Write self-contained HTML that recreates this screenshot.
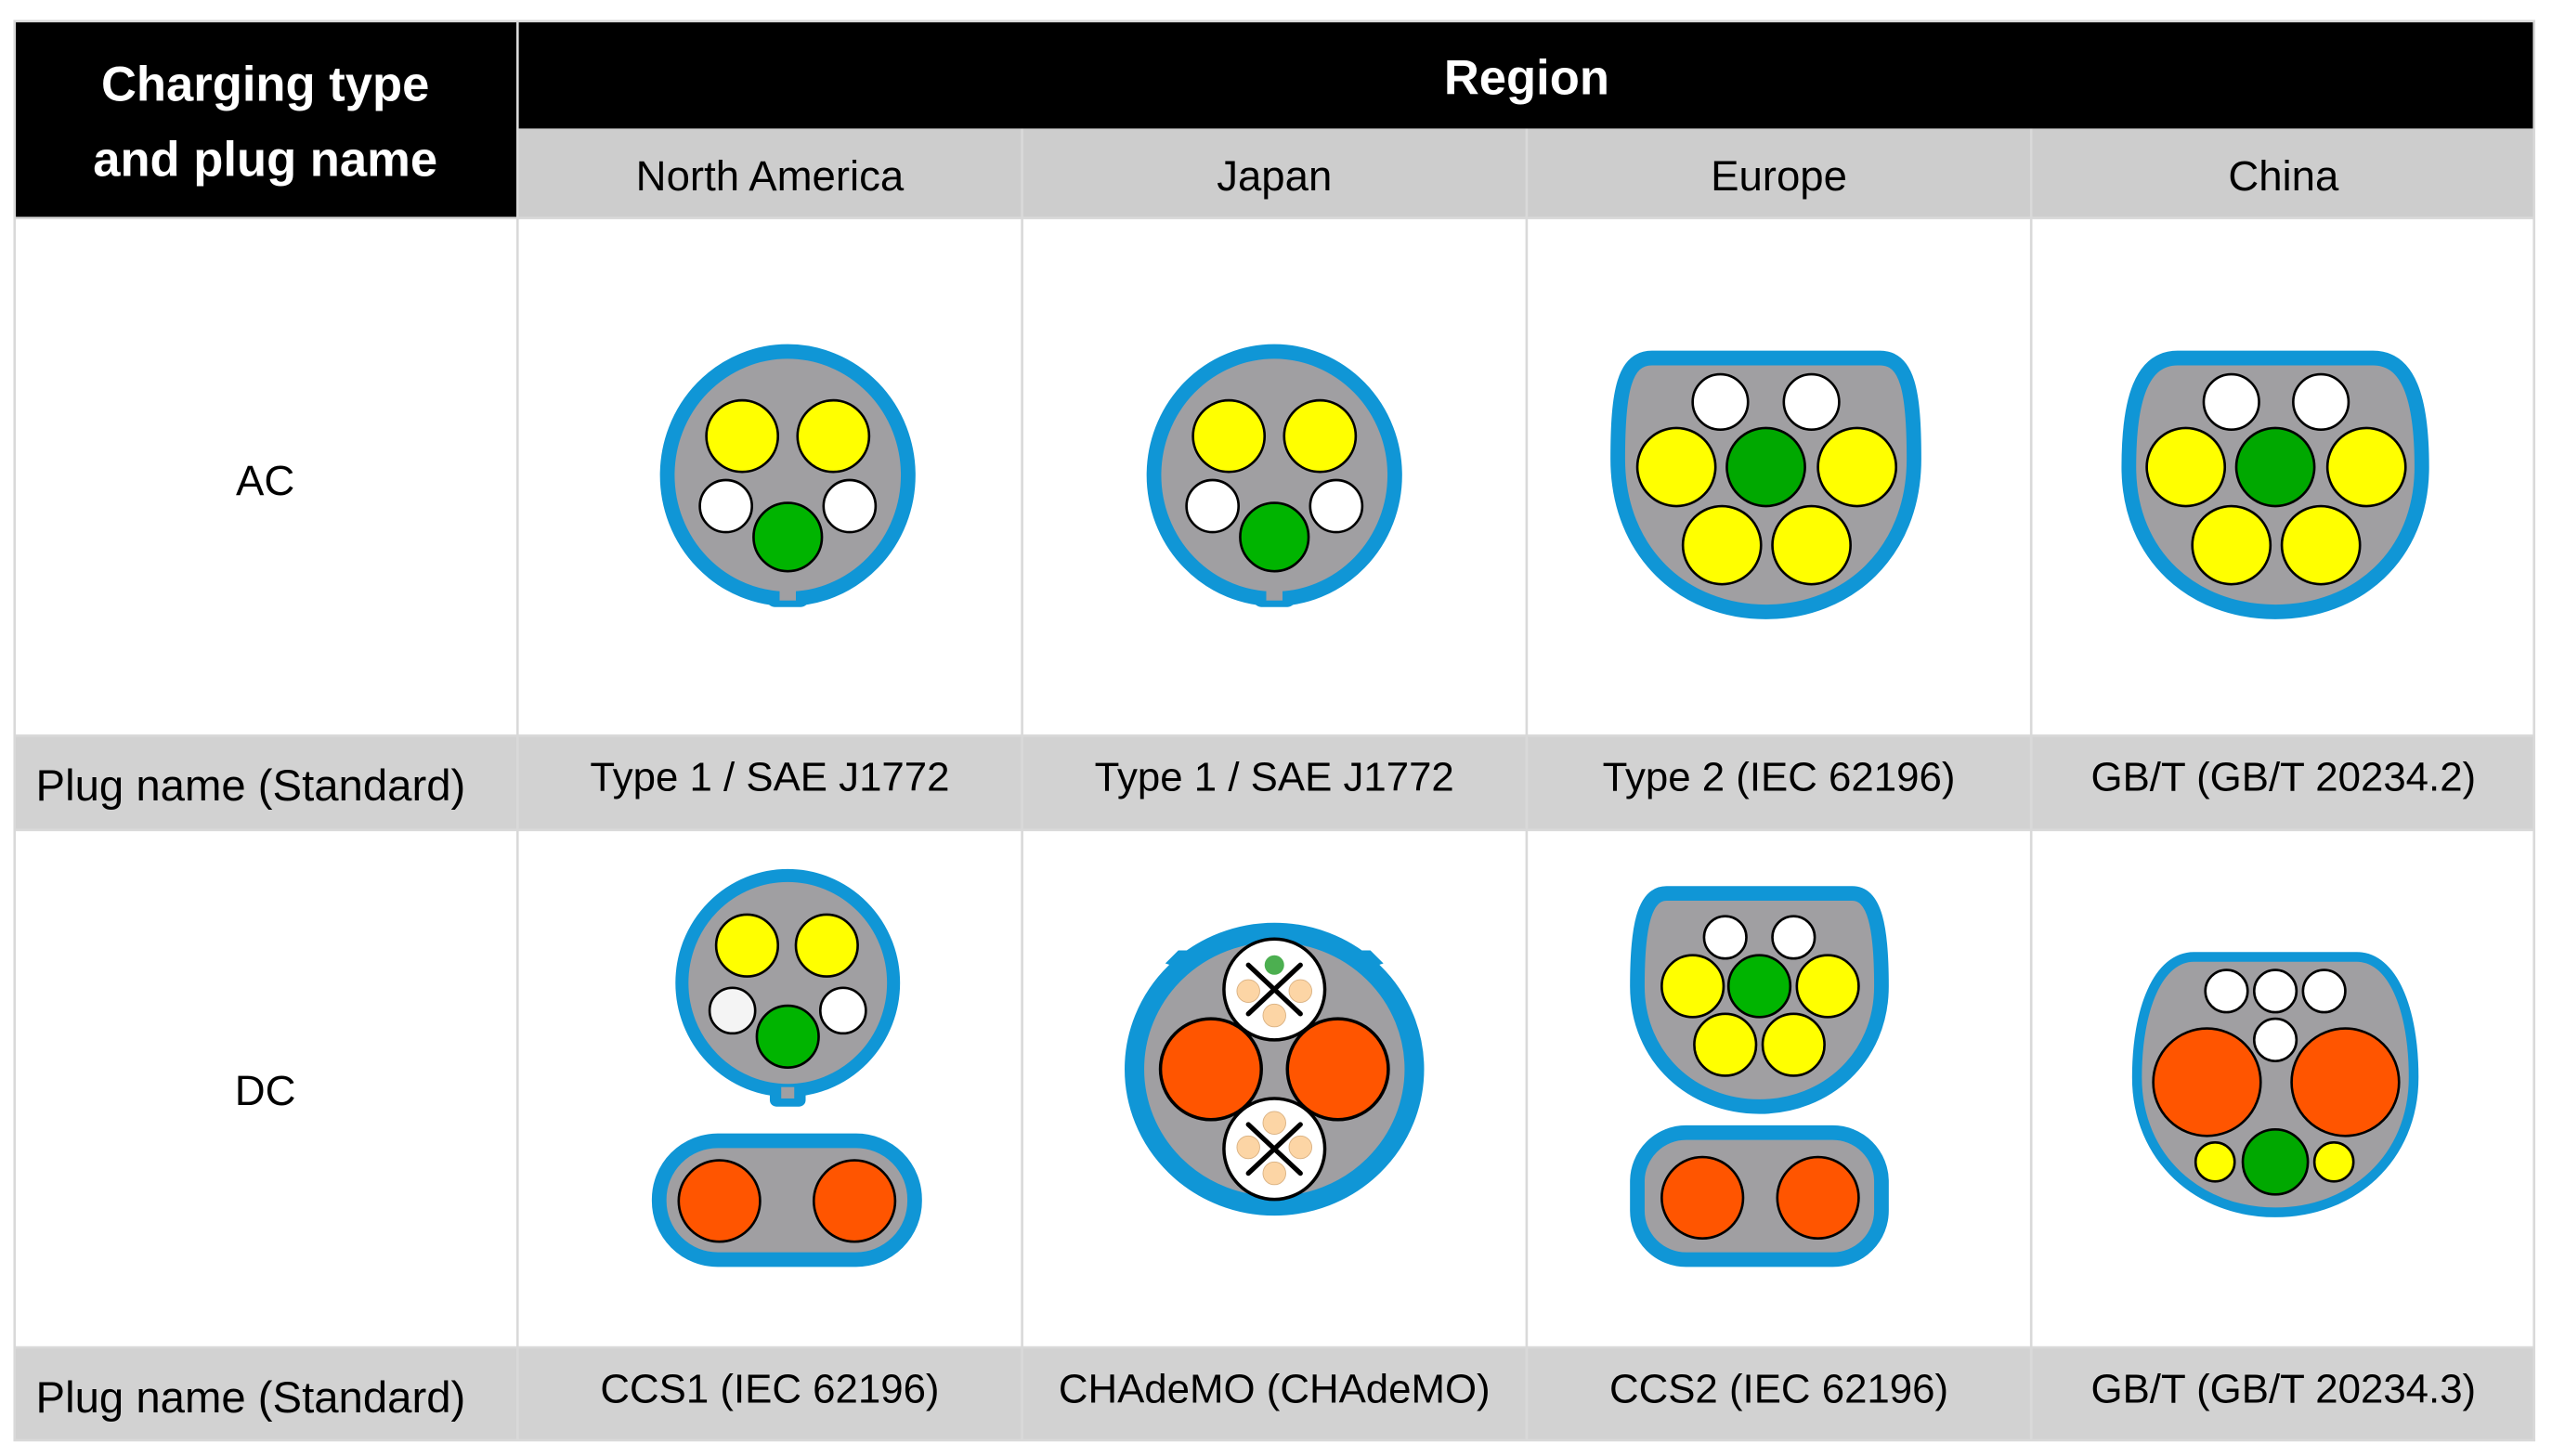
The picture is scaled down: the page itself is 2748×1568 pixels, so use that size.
<!DOCTYPE html>
<html><head><meta charset="utf-8"><style>
html,body{margin:0;padding:0;background:#fff}
svg{display:block}
text{font-family:"Liberation Sans","DejaVu Sans",sans-serif}
</style></head><body>
<svg width="2748" height="1568" viewBox="0 0 1568 894.7" preserveAspectRatio="none" xmlns="http://www.w3.org/2000/svg">
<rect x="0" y="0" width="1568" height="895" fill="#fff"/>
<rect x="9" y="13" width="309" height="121" fill="#000"/>
<rect x="318" y="13" width="1239" height="66" fill="#000"/>
<rect x="318" y="79" width="1239" height="55" fill="#cdcdcd"/>
<rect x="9" y="452" width="1548" height="58" fill="#d2d2d2"/>
<rect x="9" y="828" width="1548" height="57" fill="#d2d2d2"/>
<g stroke="#d9d9d9" stroke-width="1.5" fill="none">
<rect x="9" y="13" width="1548" height="872"/>
<line x1="318" y1="13" x2="318" y2="885"/>
<line x1="628" y1="79" x2="628" y2="885"/>
<line x1="938" y1="79" x2="938" y2="885"/>
<line x1="1248" y1="79" x2="1248" y2="885"/>
<line x1="9" y1="134" x2="1557" y2="134"/>
<line x1="9" y1="452" x2="1557" y2="452"/>
<line x1="9" y1="510" x2="1557" y2="510"/>
<line x1="9" y1="828" x2="1557" y2="828"/>
</g>
<g fill="#fff" font-weight="bold" font-size="30" text-anchor="middle">
<text x="163" y="62">Charging type</text>
<text x="163" y="108">and plug name</text>
<text x="938" y="58">Region</text>
</g>
<g fill="#000" font-size="26" text-anchor="middle">
<text x="473" y="117">North America</text>
<text x="783" y="117">Japan</text>
<text x="1093" y="117">Europe</text>
<text x="1403" y="117">China</text>
<text x="163" y="304">AC</text>
<text x="163" y="679">DC</text>
</g>
<g fill="#000" font-size="25" text-anchor="middle">
<text x="473" y="486">Type 1 / SAE J1772</text>
<text x="783" y="486">Type 1 / SAE J1772</text>
<text x="1093" y="486">Type 2 (IEC 62196)</text>
<text x="1403" y="486">GB/T (GB/T 20234.2)</text>
<text x="473" y="862">CCS1 (IEC 62196)</text>
<text x="783" y="862">CHAdeMO (CHAdeMO)</text>
<text x="1093" y="862">CCS2 (IEC 62196)</text>
<text x="1403" y="862">GB/T (GB/T 20234.3)</text>
</g>
<g fill="#000" font-size="27">
<text x="22" y="492">Plug name (Standard)</text>
<text x="22" y="868">Plug name (Standard)</text>
</g>

<defs>
<g id="t1">
<rect x="-13" y="62" width="26" height="19" rx="5" fill="#1096d6"/>
<ellipse cx="0" cy="0" rx="74" ry="76" fill="#a09fa2" stroke="#1096d6" stroke-width="9"/>
<rect x="-5" y="70" width="10" height="7" fill="#a09fa2"/>
<g stroke="#000" stroke-width="1.5">
<circle cx="-28" cy="-24" r="22" fill="#ffff00"/>
<circle cx="28" cy="-24" r="22" fill="#ffff00"/>
<circle cx="-38" cy="19" r="16" fill="#fff"/>
<circle cx="38" cy="19" r="16" fill="#fff"/>
<circle cx="0" cy="38" r="21" fill="#00b400"/>
</g>
</g>
</defs>
<use href="#t1" x="484" y="292"/>
<use href="#t1" x="783" y="292"/>

<!-- Europe AC -->
<path d="M1015,220 H1155 C1172,220 1176,240 1176,282 C1176,340 1135,376 1085,376 C1035,376 994,340 994,282 C994,240 998,220 1015,220 Z" fill="#a09fa2" stroke="#1096d6" stroke-width="9" stroke-linejoin="round"/>
<g stroke="#000" stroke-width="1.5">
<circle cx="1057" cy="247" r="17" fill="#fff"/><circle cx="1113" cy="247" r="17" fill="#fff"/>
<circle cx="1030" cy="287" r="24" fill="#ffff00"/><circle cx="1085" cy="287" r="24" fill="#00a800"/><circle cx="1141" cy="287" r="24" fill="#ffff00"/>
<circle cx="1058" cy="335" r="24" fill="#ffff00"/><circle cx="1113" cy="335" r="24" fill="#ffff00"/>
</g>
<!-- China AC -->
<path d="M1338,220 H1458 C1480,220 1488,245 1488,287 C1488,342 1448,376 1398,376 C1348,376 1308,342 1308,287 C1308,245 1316,220 1338,220 Z" fill="#a09fa2" stroke="#1096d6" stroke-width="9" stroke-linejoin="round"/>
<g stroke="#000" stroke-width="1.5">
<circle cx="1371" cy="247" r="17" fill="#fff"/><circle cx="1426" cy="247" r="17" fill="#fff"/>
<circle cx="1343" cy="287" r="24" fill="#ffff00"/><circle cx="1398" cy="287" r="24" fill="#00a800"/><circle cx="1454" cy="287" r="24" fill="#ffff00"/>
<circle cx="1371" cy="335" r="24" fill="#ffff00"/><circle cx="1426" cy="335" r="24" fill="#ffff00"/>
</g>

<!-- NA DC -->
<rect x="473" y="662" width="22" height="18" rx="4" fill="#1096d6"/>
<ellipse cx="484" cy="604" rx="65" ry="66" fill="#a09fa2" stroke="#1096d6" stroke-width="8"/>
<rect x="480" y="668" width="8" height="7" fill="#a09fa2"/>
<g stroke="#000" stroke-width="1.5">
<circle cx="459" cy="581" r="19" fill="#ffff00"/><circle cx="508" cy="581" r="19" fill="#ffff00"/>
<circle cx="450" cy="621" r="14" fill="#f4f4f4"/><circle cx="518" cy="621" r="14" fill="#fff"/>
<circle cx="484" cy="637" r="19" fill="#00b400"/>
</g>
<rect x="405" y="701" width="157" height="73" rx="36" fill="#a09fa2" stroke="#1096d6" stroke-width="9"/>
<g stroke="#000" stroke-width="1.5" fill="#ff5500">
<circle cx="442" cy="738" r="25"/><circle cx="525" cy="738" r="25"/>
</g>

<!-- Japan DC -->
<path d="M716,592 L724,584 L740,584 L740,600 Z M850,592 L842,584 L826,584 L826,600 Z" fill="#1096d6"/>
<ellipse cx="783" cy="657" rx="86" ry="84" fill="#a09fa2" stroke="#1096d6" stroke-width="12"/>
<g stroke="#000" stroke-width="2">
<circle cx="744" cy="657" r="31" fill="#ff5500"/><circle cx="822" cy="657" r="31" fill="#ff5500"/>
<circle cx="783" cy="608" r="31" fill="#fff"/><circle cx="783" cy="706" r="31" fill="#fff"/>
</g>
<g fill="#fcd5a5" stroke="#d9b080" stroke-width="0.5">
<circle cx="767" cy="609" r="7"/><circle cx="799" cy="609" r="7"/><circle cx="783" cy="624" r="7"/>
<circle cx="783" cy="690" r="7"/><circle cx="767" cy="705" r="7"/><circle cx="799" cy="705" r="7"/><circle cx="783" cy="721" r="7"/>
</g>
<circle cx="783" cy="593" r="6" fill="#4caf50"/>
<g stroke="#000" stroke-width="3" stroke-linecap="round">
<line x1="767" y1="593" x2="799" y2="623"/><line x1="799" y1="593" x2="767" y2="623"/>
<line x1="767" y1="691" x2="799" y2="721"/><line x1="799" y1="691" x2="767" y2="721"/>
</g>

<!-- Europe DC -->
<path d="M1024,549 H1138 C1152,549 1156,570 1156,606 C1156,650 1122,680 1081,680 C1040,680 1006,650 1006,606 C1006,570 1010,549 1024,549 Z" fill="#a09fa2" stroke="#1096d6" stroke-width="9" stroke-linejoin="round"/>
<g stroke="#000" stroke-width="1.5">
<circle cx="1060" cy="576" r="13" fill="#fff"/><circle cx="1102" cy="576" r="13" fill="#fff"/>
<circle cx="1040" cy="606" r="19" fill="#ffff00"/><circle cx="1081" cy="606" r="19" fill="#00b400"/><circle cx="1123" cy="606" r="19" fill="#ffff00"/>
<circle cx="1060" cy="642" r="19" fill="#ffff00"/><circle cx="1102" cy="642" r="19" fill="#ffff00"/>
</g>
<rect x="1006" y="696" width="150" height="78" rx="30" fill="#a09fa2" stroke="#1096d6" stroke-width="9"/>
<g stroke="#000" stroke-width="1.5" fill="#ff5500">
<circle cx="1046" cy="736" r="25"/><circle cx="1117" cy="736" r="25"/>
</g>

<!-- China DC -->
<path d="M1348,588 H1448 C1470,588 1483,620 1483,662 C1483,712 1445,745 1398,745 C1351,745 1313,712 1313,662 C1313,620 1326,588 1348,588 Z" fill="#a09fa2" stroke="#1096d6" stroke-width="6" stroke-linejoin="round"/>
<g stroke="#000" stroke-width="1.5">
<circle cx="1368" cy="609" r="13" fill="#fff"/><circle cx="1398" cy="609" r="13" fill="#fff"/><circle cx="1428" cy="609" r="13" fill="#fff"/>
<circle cx="1398" cy="639" r="13" fill="#fff"/>
<circle cx="1356" cy="665" r="33" fill="#ff5500"/><circle cx="1441" cy="665" r="33" fill="#ff5500"/>
<circle cx="1398" cy="714" r="20" fill="#00a800"/>
<circle cx="1361" cy="714" r="12" fill="#ffff00"/><circle cx="1434" cy="714" r="12" fill="#ffff00"/>
</g>
</svg>
</body></html>
